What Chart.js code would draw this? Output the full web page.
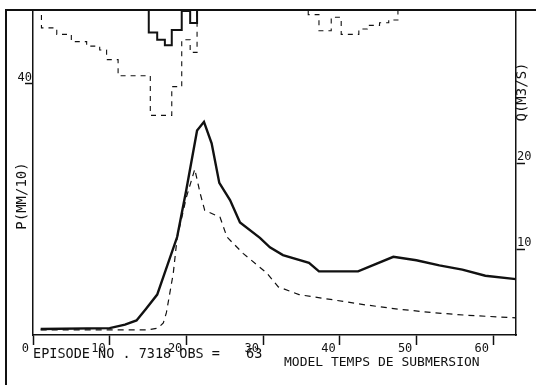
<!DOCTYPE html>
<html>
<head>
<meta charset="utf-8">
<script src="https://cdn.jsdelivr.net/npm/chart.js@4.4.0/dist/chart.umd.min.js"></script>
<style>
  html, body { margin: 0; padding: 0; background: #fff; }
  #wrap { width: 536px; height: 385px; position: relative; }
</style>
</head>
<body>
<div id="wrap"><canvas id="hydro"></canvas></div>
<script>
// Observed discharge Q (m3/s)
const obsT = [1, 10, 12, 13.5, 14.7, 16.2, 18.8, 20, 21.4, 22.3, 23.3, 24.3, 25.7, 27, 29.6, 30.9, 32.6, 36, 37.3, 42.4, 47, 50, 53, 56, 59, 63];
const obsQ = [0.7, 0.8, 1.2, 1.7, 3.0, 4.7, 11.4, 16.9, 23.8, 24.8, 22.3, 17.7, 15.7, 13.1, 11.3, 10.2, 9.3, 8.4, 7.4, 7.4, 9.1, 8.7, 8.1, 7.6, 6.9, 6.5];

// Model discharge Q (m3/s)
const simT = [1, 10, 15, 16.3, 17, 17.4, 18.3, 18.8, 20, 21.1, 21.8, 22.4, 24.4, 25.3, 27.4, 30.5, 32, 34.7, 39.1, 43.4, 47.7, 52.2, 56.5, 63];
const simQ = [0.6, 0.6, 0.6, 0.8, 1.4, 2.6, 7.2, 11.3, 16, 19.3, 16.5, 14.5, 13.7, 11.4, 9.5, 7.2, 5.6, 4.7, 4.1, 3.5, 3.0, 2.6, 2.3, 2.0];

// Rain P (mm/10), hanging from the top axis (value i holds from t[i] to t[i+1])
const rainObsT = [15.1, 15.1, 16.2, 17.2, 18.1, 19.4, 20.5, 21.4];
const rainObsP = [0, 12, 16, 19, 10.5, 0, 6.7, 0];

// Second (dashed) step series, null breaks the line
const rainSimT = [1.1, 1.1, 3.1, 5, 7, 8.7, 9.6, 11.1, 15.3, 18.1, 19.4, 20.5, 21.4, 30, 35.9, 35.9, 37.3, 38.9, 40.2, 42.5, 43.6, 45.2, 46.4, 47.6];
const rainSimP = [2.2, 9.4, 13, 17, 19.5, 21.7, 27, 36, 58, 42, 16, 23, 0, null, 0, 2, 11, 3.5, 13, 10, 8, 6.5, 5, 0];

// Ticks
const xTicks = [0, 10, 20, 30, 40, 50, 60];
const pTicks = [40];
const qTicks = [10, 20];

const INK = '#111';
const tickFont = { family: 'DejaVu Sans Mono', size: 12 };

function pts(xs, ys) {
    return xs.map((x, i) => ({ x: x, y: ys[i] }));
}

// Frame lines and the texts under the plot
const framePlugin = {
    id: 'frame',
    afterDraw(chart) {
        const c = chart.ctx;
        c.save();
        c.strokeStyle = INK;
        c.lineWidth = 2;
        c.beginPath();
        c.moveTo(6, 385);
        c.lineTo(6, 10);
        c.lineTo(536, 10);
        c.stroke();

        c.fillStyle = INK;
        c.font = '13.5px "DejaVu Sans Mono"';
        c.textBaseline = 'alphabetic';
        c.fillText('EPISODE NO . 7318 OBS =', 33, 358);
        c.fillText('63', 246, 358);
        c.font = '13px "DejaVu Sans Mono"';
        c.fillText('MODEL TEMPS DE SUBMERSION', 284, 366);

        // axis titles, both read bottom to top
        c.font = '14px "DejaVu Sans Mono"';
        c.textAlign = 'center';
        c.textBaseline = 'middle';
        c.save();
        c.translate(22, 196);
        c.rotate(-Math.PI / 2);
        c.fillText('P(MM/10)', 0, 0);
        c.restore();
        c.save();
        c.translate(522, 92);
        c.rotate(-Math.PI / 2);
        c.fillText('Q(M3/S)', 0, 0);
        c.restore();
        c.restore();
    }
};

new Chart(document.getElementById('hydro'), {
    type: 'line',
    data: {
        datasets: [
            {
                data: pts(obsT, obsQ),
                yAxisID: 'q',
                borderColor: INK,
                borderWidth: 2.4,
                pointRadius: 0,
                tension: 0
            },
            {
                data: pts(simT, simQ),
                yAxisID: 'q',
                borderColor: INK,
                borderWidth: 1.2,
                borderDash: [6, 5],
                pointRadius: 0,
                tension: 0
            },
            {
                data: pts(rainObsT, rainObsP),
                yAxisID: 'p',
                borderColor: INK,
                borderWidth: 2,
                stepped: 'before',
                pointRadius: 0
            },
            {
                data: pts(rainSimT, rainSimP),
                yAxisID: 'p',
                borderColor: INK,
                borderWidth: 1.1,
                borderDash: [5, 5],
                stepped: 'before',
                spanGaps: false,
                pointRadius: 0
            }
        ]
    },
    options: {
        responsive: true,
        maintainAspectRatio: false,
        animation: false,
        layout: { padding: { top: 11, left: 0, right: 0, bottom: 0 } },
        plugins: {
            legend: { display: false },
            tooltip: { enabled: false }
        },
        scales: {
            x: {
                type: 'linear',
                position: 'bottom',
                min: 0,
                max: 63,
                afterFit: s => { s.height = 50; },
                afterBuildTicks: s => { s.ticks = xTicks.map(v => ({ value: v })); },
                grid: { drawOnChartArea: false, tickLength: 10, tickColor: INK, tickWidth: 1.5 },
                border: { color: INK, width: 1.5 },
                ticks: { align: 'end', labelOffset: -4, padding: -3, font: tickFont, color: INK, maxRotation: 0, autoSkip: false }
            },
            p: {
                type: 'linear',
                position: 'left',
                reverse: true,
                min: 0,
                max: 180,
                afterFit: s => { s.width = 33; },
                afterBuildTicks: s => { s.ticks = pTicks.map(v => ({ value: v })); },
                grid: { drawOnChartArea: false, tickLength: 8, tickColor: INK, tickWidth: 1.5 },
                border: { color: INK, width: 1.5 },
                ticks: { padding: -7, labelOffset: -5, font: tickFont, color: INK }
            },
            q: {
                type: 'linear',
                position: 'right',
                min: 0,
                max: 37.7,
                afterFit: s => { s.width = 20; },
                afterBuildTicks: s => { s.ticks = qTicks.map(v => ({ value: v })); },
                grid: { drawOnChartArea: false, tickLength: 9, tickColor: INK, tickWidth: 1.5 },
                border: { color: INK, width: 1.5 },
                ticks: { padding: -8, labelOffset: -6, font: tickFont, color: INK }
            }
        }
    },
    plugins: [framePlugin]
});
</script>
</body>
</html>
